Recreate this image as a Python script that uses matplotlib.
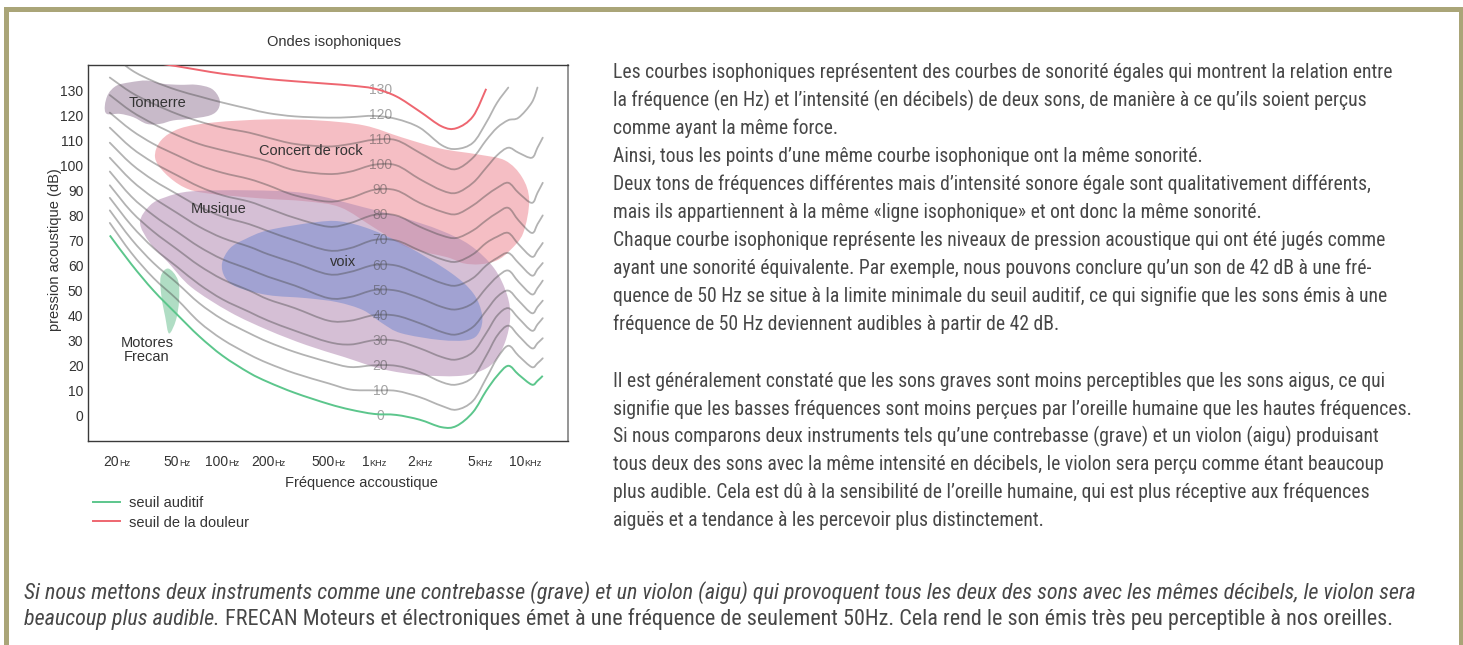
import numpy as np
import matplotlib
matplotlib.use("Agg")
import matplotlib.pyplot as plt
from matplotlib import font_manager
from matplotlib.path import Path
from matplotlib.patches import PathPatch, Rectangle
from matplotlib.lines import Line2D
from matplotlib.ticker import NullLocator

W, H = 1463, 645
nan = np.nan

# ---- equal loudness curves (dB, one value per frequency) ----
freqs = [18, 25, 35, 50, 70, 100, 150, 200, 300, 500, 700, 1000, 1400, 2000,
         2800, 3500, 4500, 5500, 6500, 7700, 9000, 11000, 12000, 13000]

phon_0 = [72, 60.5, 50, 40.5, 31.8, 24, 17.2, 13.5, 9.2, 4.8, 2.5, 0.8, 0.4, -1.5, -4.5, -4, 1.5, 10, 16, 20, 16.5, 12.5, 14, 16]
phon_10 = [77, 65, 55, 46.5, 37.5, 30.5, 24.5, 21, 17, 13, 10.5, 10.2, 10, 7.5, 4, 2.5, 6, 15, 23, 28, 24, 19.5, 21, 23]
phon_20 = [82, 70.5, 61, 53, 45, 38.5, 33, 29.5, 25.5, 21.5, 19.5, 20.2, 20, 17.5, 13.5, 12.5, 15.5, 24, 32, 36, 32, 27, 29, 31]
phon_30 = [87, 76, 67, 59.5, 52.5, 46.5, 41.5, 38, 34, 29.5, 28.5, 30.2, 30, 27, 23.5, 22.5, 25.5, 33, 40, 43, 39, 34, 36.5, 39]
phon_40 = [92, 81.5, 73.5, 66.5, 60, 54.5, 50, 46.5, 43, 38, 38, 40.2, 40, 37, 33.5, 32.5, 35.5, 42, 47.5, 50, 46, 41, 43.5, 46]
phon_50 = [97.5, 87.5, 80, 73.5, 67.5, 62.5, 58.5, 55.5, 52, 47, 47.5, 50.2, 50, 47, 43.5, 42.5, 45, 51, 55.5, 58, 53.5, 48.5, 51, 54]
phon_60 = [103, 94, 87, 81, 75.5, 71, 67.5, 64.5, 61, 56.5, 57.5, 60.2, 60, 56.5, 53, 52, 55, 60, 63, 65, 61, 56, 58.5, 61]
phon_70 = [109, 100.5, 94, 88.5, 83.5, 79.5, 76.5, 73.7, 70, 66, 67, 70.2, 70, 66, 62.5, 61.5, 64.5, 69, 71.5, 73, 68.5, 63.5, 66, 69]
phon_80 = [115, 107, 101, 96, 91.5, 88, 85.5, 82.8, 79, 75.5, 77, 80.2, 80, 75.5, 72, 71, 74, 78, 81, 83, 78, 73, 76.5, 80]
phon_90 = [121, 114, 108.5, 104, 100, 97, 94.5, 92, 88, 85.5, 87, 90.2, 90, 85, 81.5, 80.5, 84, 88, 91, 93, 89, 85, 89, 93]
phon_100 = [128, 121.5, 116.5, 112, 108.5, 106, 103.5, 101.5, 98, 96.5, 97.5, 100.2, 100, 94.5, 90, 89, 93, 99, 104, 107, 105, 103, 107, 111]
phon_110 = [135, 129, 124.5, 120.5, 117.5, 115, 113, 111, 108.5, 107.5, 108.5, 110.2, 110, 105, 100, 98.5, 103, 110, 115, 118, 119, 125, 131, nan]
phon_120 = [145, 138, 133.5, 130, 127.5, 125, 122.5, 120.8, 119.5, 119, 119.2, 119.7, 118.5, 115, 108, 106.5, 109, 117, 125, 131, nan, nan, nan, nan]
phon_130 = [nan, nan, 141, 139.5, 138, 136.5, 135.3, 134.4, 133.5, 132.5, 131.8, 130.6, 127.5, 121.5, 115.5, 114.8, 119.5, 130.5, nan, nan, nan, nan, nan, nan]

gray_levels = [10, 20, 30, 40, 50, 60, 70, 80, 90, 100, 110, 120]
gray_curves = [phon_10, phon_20, phon_30, phon_40, phon_50, phon_60,
               phon_70, phon_80, phon_90, phon_100, phon_110, phon_120]

# ---- zones (outline points: frequency Hz, dB) ----
tonnerre_f = [16.7, 17.6, 20, 24.5, 31.6, 40.6, 52.4, 67.5, 84.8, 95.2, 93.8, 82.6, 61, 47.3, 38.6, 31.6, 25.7, 21, 17.2]
tonnerre_db = [123.8, 128.5, 131.8, 133.1, 133.8, 132.5, 132.1, 132.1, 130.5, 126.5, 122.5, 119.9, 118.5, 117.9, 116.5, 116.5, 119.2, 120.5, 120.5]

rock_f = [35.8, 39.2, 52.4, 87.8, 200, 427, 860, 1530, 2730, 4870, 7340, 9500, 10580, 9650,
          7920, 6500, 5020, 3880, 3040, 1650, 990, 600, 356, 177, 79, 55.7, 41.7]
rock_db = [103.1, 109.9, 114.7, 117.1, 118.3, 117.9, 115.9, 111.1, 106.7, 104.3, 101.9, 95.2, 86, 72.9,
           66.1, 62.1, 60.5, 60.9, 63.3, 67.3, 75.3, 83.2, 85.6, 86.8, 88.8, 91.2, 96.8]

musique_f = [28.5, 33.2, 41.7, 62, 150, 356, 860, 1530, 2730, 4310, 6210, 7570, 7920,
             7340, 6210, 4870, 3540, 2015, 1130, 634, 356, 200, 112, 62, 43.6, 33.2]
musique_db = [77.2, 84, 87.2, 89.6, 90, 88.8, 83.2, 79.2, 74.1, 68.1, 58.9, 48.2, 39,
              29.5, 21.5, 17.5, 15.9, 16.3, 18.7, 23.5, 28.3, 34.2, 41.4, 51.4, 61.3, 68.9]

voix_f = [99.2, 112, 140.7, 200, 402, 597, 942, 1653, 3181, 4511, 5174, 4943, 4182,
          2732, 1509, 1131, 847, 570, 356, 200, 124.6, 103.8]
voix_db = [60.9, 66.9, 70.5, 74.1, 77.2, 77.6, 74.5, 67.7, 57.3, 49, 40.2, 33.4, 30.3,
           30.3, 33, 37, 42.2, 45.4, 47, 48.2, 51.4, 55.3]

motores_f = [43.8, 50.7, 51.6, 49.2, 44.3, 41.8, 39.5, 39]
motores_db = [58.8, 54.2, 46.2, 38.2, 32.9, 39.5, 47.5, 55.5]

tick_freqs = [20, 50, 100, 200, 500, 1000, 2000, 5000, 10000]
tick_nums = ["20", "50", "100", "200", "500", "1", "2", "5", "10"]
tick_units = ["Hz", "Hz", "Hz", "Hz", "Hz", "KHz", "KHz", "KHz", "KHz"]

para1 = [
    "Les courbes isophoniques représentent des courbes de sonorité égales qui montrent la relation entre",
    "la fréquence (en Hz) et l’intensité (en décibels) de deux sons, de manière à ce qu’ils soient perçus",
    "comme ayant la même force.",
    "Ainsi, tous les points d’une même courbe isophonique ont la même sonorité.",
    "Deux tons de fréquences différentes mais d’intensité sonore égale sont qualitativement différents,",
    "mais ils appartiennent à la même «ligne isophonique» et ont donc la même sonorité.",
    "Chaque courbe isophonique représente les niveaux de pression acoustique qui ont été jugés comme",
    "ayant une sonorité équivalente. Par exemple, nous pouvons conclure qu’un son de 42 dB à une fré-",
    "quence de 50 Hz se situe à la limite minimale du seuil auditif, ce qui signifie que les sons émis à une",
    "fréquence de 50 Hz deviennent audibles à partir de 42 dB.",
]
para2 = [
    "Il est généralement constaté que les sons graves sont moins perceptibles que les sons aigus, ce qui",
    "signifie que les basses fréquences sont moins perçues par l’oreille humaine que les hautes fréquences.",
    "Si nous comparons deux instruments tels qu’une contrebasse (grave) et un violon (aigu) produisant",
    "tous deux des sons avec la même intensité en décibels, le violon sera perçu comme étant beaucoup",
    "plus audible. Cela est dû à la sensibilité de l’oreille humaine, qui est plus réceptive aux fréquences",
    "aiguës et a tendance à les percevoir plus distinctement.",
]
foot1 = ("Si nous mettons deux instruments comme une contrebasse (grave) et un violon (aigu) qui provoquent "
         "tous les deux des sons avec les mêmes décibels, le violon sera")
foot2_italic = "beaucoup plus audible."
foot2_regular = ("FRECAN Moteurs et électroniques émet à une fréquence de seulement 50Hz. "
                 "Cela rend le son émis très peu perceptible à nos oreilles.")

# ---- fonts ----
names = {f.name for f in font_manager.fontManager.ttflist}


def pick(cands):
    for c in cands:
        if c in names:
            return c
    return "DejaVu Sans"


chart_font = pick(["Liberation Sans", "Arimo", "DejaVu Sans"])
body_font = pick(["Liberation Sans Narrow", "Roboto Condensed", "Open Sans Condensed", "Noto Sans", "Open Sans"])
plt.rcParams["font.family"] = chart_font

TXT = "#333333"


def smooth_path(fs, dbs, closed=False):
    # smooth curve through the points (Catmull-Rom, in log-frequency space)
    fs = np.asarray(fs, float)
    dbs = np.asarray(dbs, float)
    ok = ~np.isnan(dbs)
    u = np.log10(fs[ok])
    v = dbs[ok]
    n = len(u)

    def idx(k):
        return k % n if closed else min(max(k, 0), n - 1)

    verts = [(u[0], v[0])]
    codes = [Path.MOVETO]
    for i in range(n if closed else n - 1):
        i0, i1, i2, i3 = idx(i - 1), idx(i), idx(i + 1), idx(i + 2)
        verts.append((u[i1] + (u[i2] - u[i0]) / 6, v[i1] + (v[i2] - v[i0]) / 6))
        verts.append((u[i2] - (u[i3] - u[i1]) / 6, v[i2] - (v[i3] - v[i1]) / 6))
        verts.append((u[i2], v[i2]))
        codes += [Path.CURVE4] * 3
    if closed:
        verts.append((u[0], v[0]))
        codes.append(Path.CLOSEPOLY)
    verts = np.array(verts)
    verts[:, 0] = 10 ** verts[:, 0]
    return Path(verts, codes)


fig = plt.figure(figsize=(W / 100, H / 100), dpi=100)
fig.patch.set_facecolor("white")
renderer = fig.canvas.get_renderer()


def width_px(s, **kw):
    t = fig.text(0, 0, s, **kw)
    w = t.get_window_extent(renderer).width
    t.remove()
    return w


ax = fig.add_axes([88.4 / W, 1 - 441 / H, 479.3 / W, 376 / H])
ax.set_xscale("log")
ax.set_xlim(13, 19000)
ax.set_ylim(-10, 140)

# zones
zones = [(rock_f, rock_db, "#ee8a94", 0.55),
         (musique_f, musique_db, "#b38cb3", 0.55),
         (voix_f, voix_db, "#7f8fd0", 0.6),
         (tonnerre_f, tonnerre_db, "#a48ca6", 0.6),
         (motores_f, motores_db, "#8fcfab", 0.7)]
for zf, zdb, col, a in zones:
    ax.add_patch(PathPatch(smooth_path(zf, zdb, closed=True), facecolor=col, alpha=a, lw=0, zorder=2))

# curves
for lvl, vals in zip(gray_levels, gray_curves):
    ax.add_patch(PathPatch(smooth_path(freqs, vals), fill=False, edgecolor="#4a4a4a",
                           alpha=0.42, lw=1.3, zorder=4, capstyle="round"))
green_col, red_col = "#5cc68c", "#ee6670"
ax.add_patch(PathPatch(smooth_path(freqs, phon_0), fill=False, edgecolor=green_col, lw=1.4, zorder=5))
ax.add_patch(PathPatch(smooth_path(freqs, phon_130), fill=False, edgecolor=red_col, lw=1.4, zorder=5))

for lvl in [0] + gray_levels + [130]:
    ax.text(1100, lvl, str(lvl), ha="center", va="center", fontsize=10,
            color="#4a4a4a", alpha=0.5, zorder=4)

# zone labels
ax.text(37.2, 125, "Tonnerre", ha="center", va="center", fontsize=10.5, color=TXT, zorder=6)
ax.text(381, 105.5, "Concert de rock", ha="center", va="center", fontsize=10.5, color=TXT, zorder=6)
ax.text(94.8, 82.4, "Musique", ha="center", va="center", fontsize=10.5, color=TXT, zorder=6)
ax.text(625, 61.3, "voix", ha="center", va="center", fontsize=10.5, color=TXT, zorder=6)
ax.text(31.7, 26.3, "Motores\nFrecan", ha="center", va="center", fontsize=10.5, color=TXT,
        linespacing=0.95, zorder=6)

# axes styling
ax.set_yticks(range(0, 140, 10))
ax.tick_params(axis="y", length=0, pad=3.6, labelsize=10, labelcolor=TXT)
ax.set_xticks([])
ax.xaxis.set_minor_locator(NullLocator())
for s in ax.spines.values():
    s.set_color("#3a3a3a")
    s.set_linewidth(1.0)
ax.spines["right"].set_color("#8c8c8c")
ax.spines["right"].set_linewidth(1.3)

# x tick labels: number + small unit
for f, num, unit in zip(tick_freqs, tick_nums, tick_units):
    w1 = width_px(num, fontsize=10)
    w2 = width_px(unit, fontsize=6.7)
    dx = (w1 - w2) / 2 * 0.72
    ax.annotate(num, xy=(f, 0), xycoords=ax.get_xaxis_transform(), xytext=(dx, -18),
                textcoords="offset points", ha="right", va="baseline", fontsize=10, color=TXT)
    ax.annotate(unit, xy=(f, 0), xycoords=ax.get_xaxis_transform(), xytext=(dx, -18),
                textcoords="offset points", ha="left", va="baseline", fontsize=6.7, color=TXT)

fig.text(334 / W, 1 - 42 / H, "Ondes isophoniques", ha="center", va="center", fontsize=10.5, color=TXT)
fig.text(361 / W, 1 - 483 / H, "Fréquence accoustique", ha="center", va="center", fontsize=10.5, color=TXT)
fig.text(55.5 / W, 1 - 250 / H, "pression acoustique (dB)", ha="center", va="center",
         rotation=90, fontsize=10.5, color=TXT)

handles = [Line2D([], [], color=green_col, lw=1.4), Line2D([], [], color=red_col, lw=1.4)]
ax.legend(handles=handles, labels=["seuil auditif", "seuil de la douleur"],
          loc="upper left", bbox_to_anchor=(93 / W, 1 - 496 / H), bbox_transform=fig.transFigure,
          frameon=False, handlelength=1.85, handletextpad=0.63, labelspacing=0.38,
          borderpad=0, borderaxespad=0, fontsize=10.5, labelcolor=TXT)

# ---- right hand text ----
body = dict(family=body_font, color="#474747")
size_body = 12 * 796 / width_px(para2[1], fontsize=12, **body)
for i, line in enumerate(para1):
    fig.text(613 / W, 1 - (72.5 + i * 28.0) / H, line, fontsize=size_body, va="center", **body)
for i, line in enumerate(para2):
    fig.text(613 / W, 1 - (381.5 + i * 27.7) / H, line, fontsize=size_body, va="center", **body)

# ---- footer ----
x_foot = 24
size_foot = 12 * 1389 / width_px(foot1, fontsize=12, style="italic", **body)
fig.text(x_foot / W, 1 - 599 / H, foot1, fontsize=size_foot, style="italic", va="baseline", **body)
fig.text(x_foot / W, 1 - 625 / H, foot2_italic, fontsize=size_foot, style="italic", va="baseline", **body)
w_it = width_px(foot2_italic, fontsize=size_foot, style="italic", **body)
w_sp = width_px("a a", fontsize=size_foot, **body) - width_px("aa", fontsize=size_foot, **body)
fig.text((x_foot + w_it + w_sp) / W, 1 - 625 / H, foot2_regular, fontsize=size_foot, va="baseline", **body)

# ---- page frame ----
frame = "#aaa578"
fig.patches.append(Rectangle((4 / W, 1 - 12 / H), (W - 4) / W, 5 / H, transform=fig.transFigure,
                             facecolor=frame, edgecolor="none"))
fig.patches.append(Rectangle((4 / W, 0), 5 / W, 1 - 7 / H, transform=fig.transFigure,
                             facecolor=frame, edgecolor="none"))
fig.patches.append(Rectangle((1459 / W, 0), 4 / W, 1 - 7 / H, transform=fig.transFigure,
                             facecolor=frame, edgecolor="none"))

fig.savefig("out.png", dpi=100)
